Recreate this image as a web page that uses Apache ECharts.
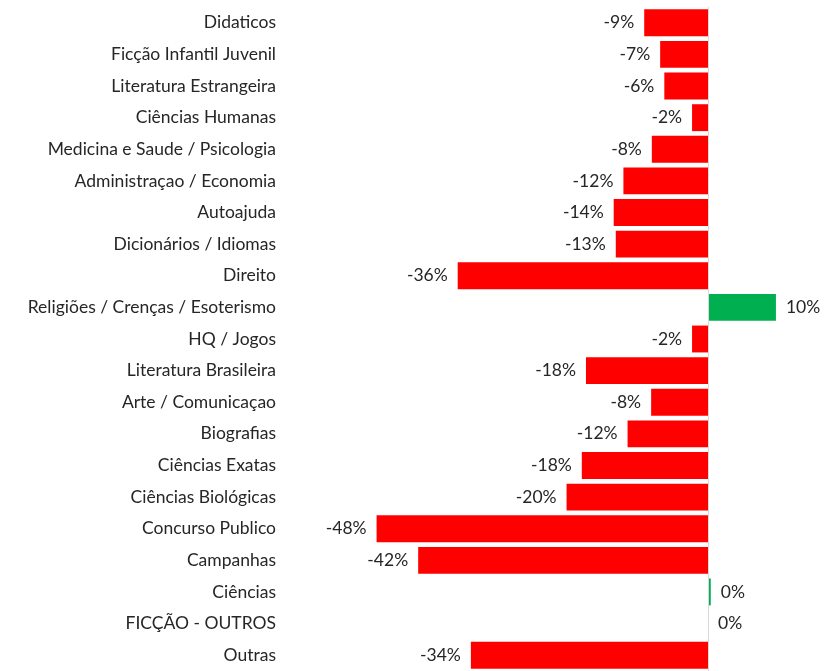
<!DOCTYPE html>
<html>
<head>
<meta charset="utf-8">
<title>Variação por categoria</title>
<script src="https://cdn.jsdelivr.net/npm/echarts@6/dist/echarts.min.js"></script>
<style>
  html, body { margin: 0; padding: 0; background: #fff; }
  #chart { width: 827px; height: 671px; }
</style>
</head>
<body>
<div id="chart"></div>
<script type="text/javascript">
    // categorias, de cima para baixo
    var categorias = [
      'Didaticos', 'Ficção Infantil Juvenil', 'Literatura Estrangeira', 'Ciências Humanas',
      'Medicina e Saude / Psicologia', 'Administraçao / Economia', 'Autoajuda',
      'Dicionários / Idiomas', 'Direito', 'Religiões / Crenças / Esoterismo', 'HQ / Jogos',
      'Literatura Brasileira', 'Arte / Comunicaçao', 'Biografias', 'Ciências Exatas',
      'Ciências Biológicas', 'Concurso Publico', 'Campanhas', 'Ciências',
      'FICÇÃO - OUTROS', 'Outras'
    ];

    // variação (%)
    var variacao = [
      -9.2, -6.9, -6.3, -2.3, -8.1, -12.2, -13.6, -13.3, -36.1, 9.8, -2.3,
      -17.6, -8.2, -11.6, -18.2, -20.4, -47.8, -41.8, 0.4, 0, -34.2
    ];

    var chart = echarts.init(document.getElementById('chart'));

    var option = {
      animation: false,
      textStyle: { fontFamily: 'Lato' },
      grid: { left: 292, top: 7, width: 520, height: 667, containLabel: false },
      xAxis: {
        type: 'value',
        min: -60,
        max: 15,
        show: false
      },
      yAxis: {
        type: 'category',
        inverse: true,
        data: categorias,
        axisLine: { show: false },
        axisTick: { show: false },
        axisLabel: { color: '#262626', fontSize: 17.5, margin: 16 }
      },
      series: [{
        type: 'bar',
        barCategoryGap: '15%',
        data: variacao.map(function (v) {
          return {
            value: v,
            itemStyle: { color: v < 0 ? '#ff0000' : '#00b050' },
            label: { position: v < 0 ? 'left' : 'right' }
          };
        }),
        label: {
          show: true,
          distance: 10,
          color: '#262626',
          fontSize: 17.5,
          formatter: function (p) { return Math.round(p.value) + '%'; }
        },
        markLine: {
          silent: true,
          symbol: 'none',
          label: { show: false },
          lineStyle: { color: '#d9d9d9', type: 'solid', width: 1 },
          data: [{ xAxis: 0 }]
        }
      }]
    };

    chart.setOption(option);
</script>
</body>
</html>
